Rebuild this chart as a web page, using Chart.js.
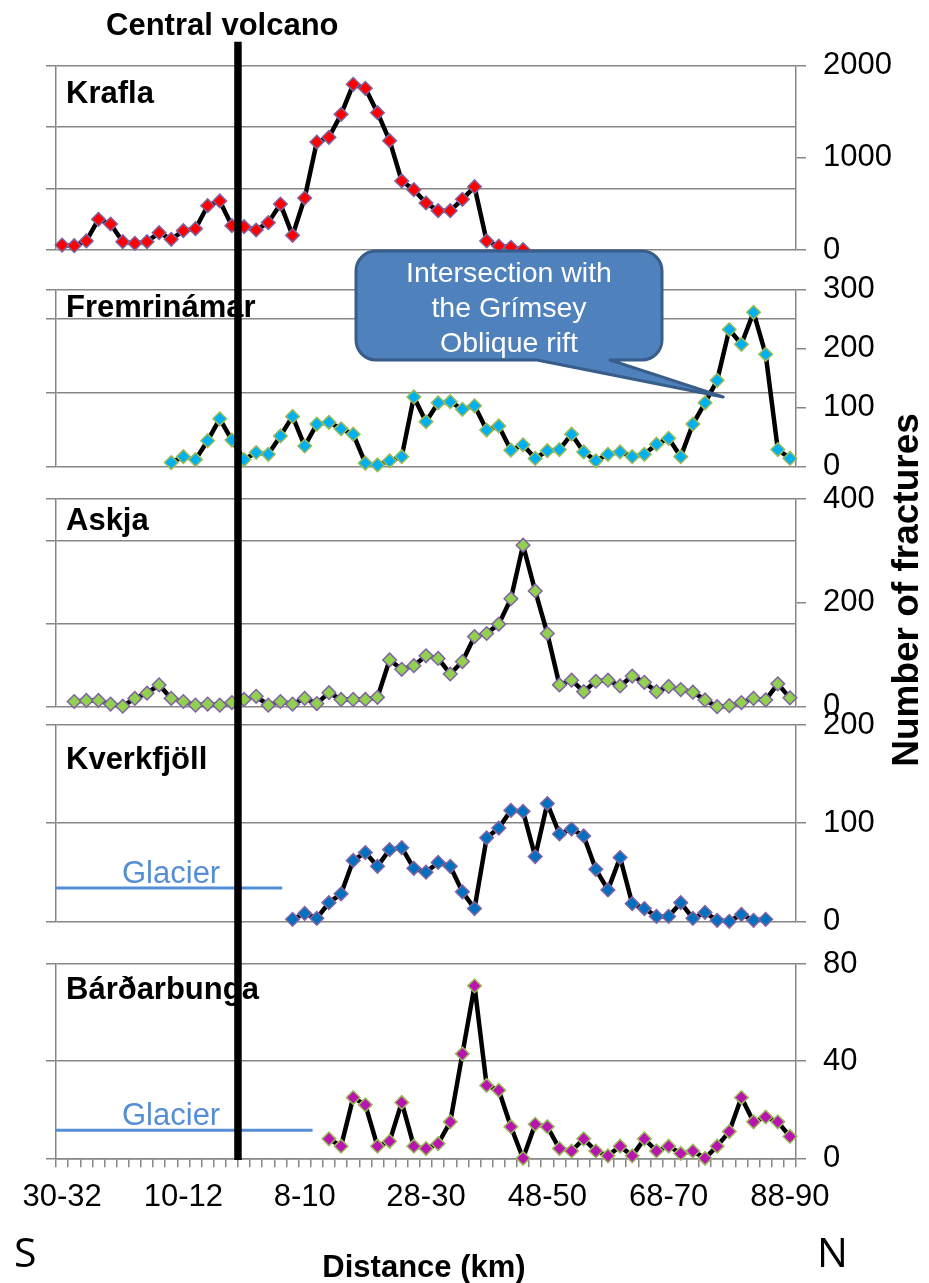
<!DOCTYPE html>
<html>
<head>
<meta charset="utf-8">
<script src="https://cdn.jsdelivr.net/npm/chart.js@4.4.1/dist/chart.umd.min.js"></script>
<style>
  html, body { margin: 0; padding: 0; background: #ffffff; }
  #wrap { position: relative; width: 929px; height: 1283px; overflow: hidden; }
  #wrap canvas { position: absolute; left: 0; top: 0; }
</style>
</head>
<body>
<div id="wrap"></div>
<script>
// 2 km distance bins from south (left) to north (right)
const distanceBins = [
  '30-32', '28-30', '26-28', '24-26', '22-24', '20-22', '18-20', '16-18', '14-16', '12-14',
  '10-12', '8-10', '6-8', '4-6', '2-4', '0-2', '0-2', '2-4', '4-6', '6-8',
  '8-10', '10-12', '12-14', '14-16', '16-18', '18-20', '20-22', '22-24', '24-26', '26-28',
  '28-30', '30-32', '32-34', '34-36', '36-38', '38-40', '40-42', '42-44', '44-46', '46-48',
  '48-50', '50-52', '52-54', '54-56', '56-58', '58-60', '60-62', '62-64', '64-66', '66-68',
  '68-70', '70-72', '72-74', '74-76', '76-78', '78-80', '80-82', '82-84', '84-86', '86-88',
  '88-90'
];

// Number of fractures per bin for each central volcano (null = not mapped)
const kraflaFractures = [
  54, 47, 98, 333, 282, 90, 72, 90, 188, 116,
  210, 231, 481, 532, 264, 253, 217, 297, 499, 159,
  564, 1172, 1223, 1472, 1798, 1754, 1490, 1186, 749, 655,
  510, 427, 427, 550, 687, 98, 43, 29, 5, null,
  null, null, null, null, null, null, null, null, null, null,
  null, null, null, null, null, null, null, null, null, null,
  null
];
const fremrinamarFractures = [
  null, null, null, null, null, null, null, null, null, 7,
  17, 12, 44, 81, 45, 12, 24, 21, 52, 85,
  35, 72, 75, 64, 55, 6, 3, 10, 17, 118,
  76, 108, 110, 97, 103, 62, 69, 28, 37, 14,
  27, 29, 55, 25, 10, 21, 25, 17, 21, 38,
  48, 17, 72, 108, 146, 232, 207, 261, 190, 29,
  14
];
const askjaFractures = [
  null, 10, 12, 12, 5, 1, 16, 26, 42, 16,
  10, 3, 5, 3, 8, 14, 20, 3, 10, 5,
  16, 6, 27, 14, 14, 14, 18, 90, 72, 79,
  98, 93, 63, 87, 135, 141, 159, 208, 311, 223,
  141, 42, 51, 29, 49, 51, 40, 59, 47, 29,
  39, 33, 28, 13, 0, 2, 8, 16, 13, 44,
  17
];
const kverkfjollFractures = [
  null, null, null, null, null, null, null, null, null, null,
  null, null, null, null, null, null, null, null, null, 2,
  8, 3, 19, 28, 62, 70, 56, 73, 75, 54,
  50, 60, 56, 30, 13, 85, 95, 113, 112, 66,
  120, 89, 94, 87, 53, 32, 65, 18, 13, 5,
  5, 19, 3, 9, 1, 0, 7, 1, 2, null,
  null
];
const bardarbungaFractures = [
  null, null, null, null, null, null, null, null, null, null,
  null, null, null, null, null, null, null, null, null, null,
  null, null, 8, 5, 25, 22, 5, 7, 23, 5,
  4, 6, 15, 43, 71, 30, 28, 13, 0, 14,
  13, 4, 3, 8, 3, 1, 5, 1, 8, 3,
  5, 2, 3, 0, 5, 11, 25, 15, 17, 15,
  9
];

// Axis ranges: left axis carries the gridlines, right axis carries the labels
const volcanoNames = ['Krafla', 'Fremrinámar', 'Askja', 'Kverkfjöll', 'Bárðarbunga'];
const axisMax      = [2000, 300, 400, 200, 80];
const gridSteps    = [2000 / 3, 125, 160, 100, 40];
const labelSteps   = [1000, 100, 200, 100, 40];

const W = 929, H = 1283;
const PLOT_LEFT = 56, PLOT_RIGHT = 796;
const GRAY = '#868686';
const FONT = "'Liberation Sans', Arial, Helvetica, sans-serif";
const X_AXIS_HEIGHT = 60;

const panels = [
  { data: kraflaFractures,      fill: '#FF0000', edge: '#8064A2', top: 65.7,  bottom: 250,    nameBaseline: 103 },
  { data: fremrinamarFractures, fill: '#00B0F0', edge: '#9BBB59', top: 289.3, bottom: 466.7,  nameBaseline: 317 },
  { data: askjaFractures,       fill: '#92D050', edge: '#8064A2', top: 499,   bottom: 706.7,  nameBaseline: 530 },
  { data: kverkfjollFractures,  fill: '#0070C0', edge: '#8064A2', top: 725,   bottom: 921.3,  nameBaseline: 769,
    glacier: { to: 18.15, level: 34 } },
  { data: bardarbungaFractures, fill: '#B814B0', edge: '#9BBB59', top: 964,   bottom: 1158.3, nameBaseline: 999,
    glacier: { to: 20.65, level: 11.5 } }
];

// Panel name and glacier extent, drawn in each panel's own scales
const panelDecor = {
  id: 'panelDecor',
  afterDatasetsDraw(chart, args, opts) {
    const ctx = chart.ctx;
    const p = opts.panel;
    ctx.save();
    ctx.fillStyle = '#000';
    ctx.font = 'bold 31px ' + FONT;
    ctx.textAlign = 'left';
    ctx.textBaseline = 'alphabetic';
    ctx.fillText(opts.name, 66, p.nameBaseline);
    if (p.glacier) {
      const xs = chart.scales.x, ys = chart.scales.y;
      const y = ys.getPixelForValue(p.glacier.level);
      const x0 = chart.chartArea.left;
      const x1 = xs.getPixelForValue(p.glacier.to);
      ctx.strokeStyle = '#558ED5';
      ctx.lineWidth = 3;
      ctx.beginPath();
      ctx.moveTo(x0, y);
      ctx.lineTo(x1, y);
      ctx.stroke();
      ctx.fillStyle = '#558ED5';
      ctx.font = '31px ' + FONT;
      ctx.fillText('Glacier', 122, y - 5);
    }
    ctx.restore();
  }
};

const charts = [];

// Figure-wide annotations, drawn on the top-most canvas
const overlay = {
  id: 'overlay',
  afterDraw(chart) {
    const ctx = chart.ctx;
    ctx.save();

    // Callout pointing at the Fremrinámar peak
    const fr = charts[1];
    const tipX = fr.scales.x.getPixelForValue(54.5);
    const tipY = fr.scales.y.getPixelForValue(118);
    const L = 356, T = 251, R = 662, B = 360, r = 20, w1 = 537, w2 = 610;
    ctx.beginPath();
    ctx.moveTo(L + r, T);
    ctx.lineTo(R - r, T); ctx.arcTo(R, T, R, T + r, r);
    ctx.lineTo(R, B - r); ctx.arcTo(R, B, R - r, B, r);
    ctx.lineTo(w2, B); ctx.lineTo(tipX, tipY); ctx.lineTo(w1, B);
    ctx.lineTo(L + r, B); ctx.arcTo(L, B, L, B - r, r);
    ctx.lineTo(L, T + r); ctx.arcTo(L, T, L + r, T, r);
    ctx.closePath();
    ctx.fillStyle = '#4F81BD';
    ctx.fill();
    ctx.lineWidth = 3;
    ctx.lineJoin = 'round';
    ctx.strokeStyle = '#385D8A';
    ctx.stroke();
    ctx.fillStyle = '#FFFFFF';
    ctx.font = '28.5px ' + FONT;
    ctx.textAlign = 'center';
    ctx.textBaseline = 'alphabetic';
    ctx.fillText('Intersection with', 509, 281.7);
    ctx.fillText('the Grímsey', 509, 316.7);
    ctx.fillText('Oblique rift', 509, 351.7);

    // Central volcano marker across all panels
    const vx = chart.scales.x.getPixelForValue(14.5);
    ctx.strokeStyle = '#000';
    ctx.lineWidth = 7.5;
    ctx.lineCap = 'butt';
    ctx.beginPath();
    ctx.moveTo(vx, 41.7);
    ctx.lineTo(vx, 1160);
    ctx.stroke();

    ctx.fillStyle = '#000';
    ctx.textAlign = 'left';
    ctx.font = 'bold 31px ' + FONT;
    ctx.fillText('Central volcano', 106, 35);

    ctx.textAlign = 'center';
    ctx.fillText('Distance (km)', 424, 1277);

    ctx.textAlign = 'left';
    ctx.font = "41px 'Open Sans', 'Noto Sans', sans-serif";
    ctx.fillText('S', 14, 1267);
    ctx.fillText('N', 817, 1267);

    ctx.save();
    ctx.translate(908, 590);
    ctx.rotate(-Math.PI / 2);
    ctx.font = 'bold 37px ' + FONT;
    ctx.textAlign = 'center';
    ctx.textBaseline = 'middle';
    ctx.fillText('Number of fractures', 0, 0);
    ctx.restore();

    ctx.restore();
  }
};

const wrap = document.getElementById('wrap');
panels.forEach((p, i) => {
  const isLast = i === panels.length - 1;
  const cv = document.createElement('canvas');
  cv.width = W; cv.height = H;
  cv.style.width = W + 'px'; cv.style.height = H + 'px';
  wrap.appendChild(cv);

  const chart = new Chart(cv, {
    type: 'line',
    data: {
      labels: distanceBins,
      datasets: [{
        data: p.data,
        yAxisID: 'y',
        borderColor: '#000000',
        borderWidth: 4.5,
        borderJoinStyle: 'round',
        tension: 0,
        spanGaps: false,
        clip: false,
        pointStyle: 'rectRot',
        pointRadius: 6.8,
        pointBorderWidth: 1.5,
        pointBackgroundColor: p.fill,
        pointBorderColor: p.edge,
        fill: false
      }]
    },
    options: {
      responsive: false,
      animation: false,
      devicePixelRatio: 1,
      events: [],
      layout: {
        padding: {
          left: 0, right: 0, top: p.top,
          bottom: isLast ? H - p.bottom - X_AXIS_HEIGHT : H - p.bottom
        }
      },
      plugins: {
        legend: { display: false },
        tooltip: { enabled: false },
        panelDecor: { name: volcanoNames[i], panel: p }
      },
      scales: {
        x: {
          type: 'category',
          offset: true,
          display: isLast,
          grid: { display: true, drawOnChartArea: false, drawTicks: true, tickLength: 9,
                  color: GRAY, lineWidth: 1.5, offset: true },
          border: { display: true, color: GRAY, width: 1.5 },
          ticks: {
            autoSkip: false, maxRotation: 0, minRotation: 0, padding: 12,
            color: '#000', font: { size: 31, family: FONT },
            callback(value, index) { return index % 10 === 0 ? this.getLabelForValue(value) : ''; }
          },
          afterFit(s) { if (isLast) s.height = X_AXIS_HEIGHT; }
        },
        y: {
          position: 'left',
          min: 0, max: axisMax[i], bounds: 'data',
          ticks: { display: false, stepSize: gridSteps[i], includeBounds: false },
          grid: { color: GRAY, lineWidth: 1.5, drawTicks: true, tickLength: 10 },
          border: { display: true, color: GRAY, width: 1.5 },
          afterFit(s) { s.width = PLOT_LEFT; }
        },
        y2: {
          position: 'right',
          min: 0, max: axisMax[i], bounds: 'data',
          ticks: { stepSize: labelSteps[i], padding: 17, color: '#000',
                   font: { size: 31, family: FONT },
                   callback(value) { return String(value); } },
          grid: { drawOnChartArea: false, drawTicks: true, tickLength: 10, color: GRAY, lineWidth: 1.5 },
          border: { display: true, color: GRAY, width: 1.5 },
          afterFit(s) { s.width = W - PLOT_RIGHT; }
        }
      }
    },
    plugins: isLast ? [panelDecor, overlay] : [panelDecor]
  });
  charts.push(chart);
});
</script>
</body>
</html>
